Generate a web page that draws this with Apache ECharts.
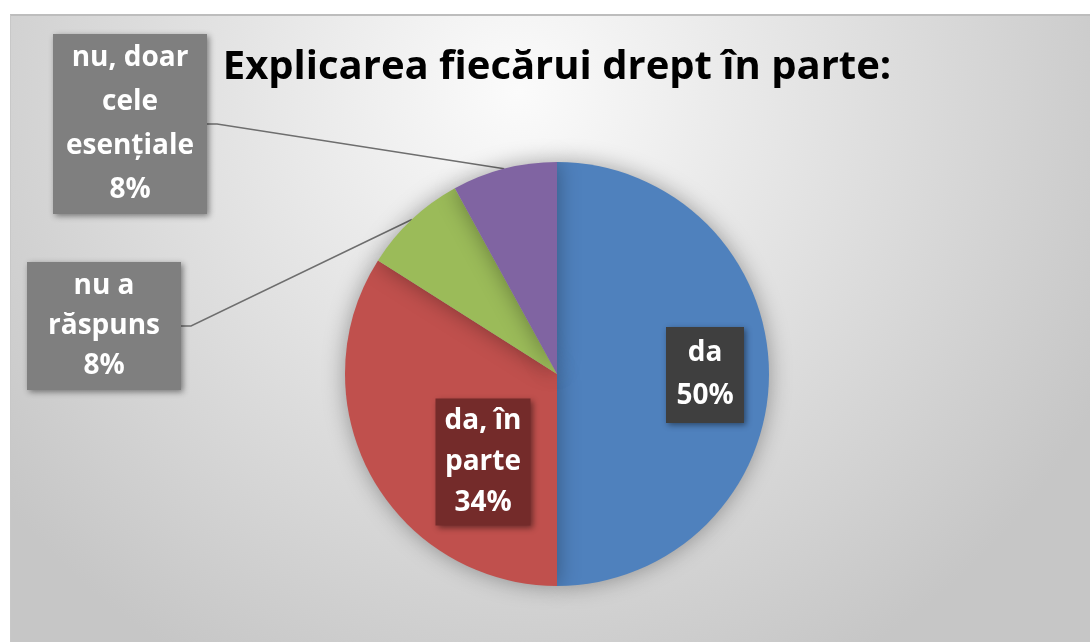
<!DOCTYPE html>
<html>
<head>
<meta charset="utf-8">
<script src="https://cdn.jsdelivr.net/npm/echarts@6/dist/echarts.min.js"></script>
<style>
  html, body { margin: 0; padding: 0; background: #ffffff; }
  #chart {
    position: absolute; left: 10px; top: 14px;
    width: 1080px; height: 628px;
    box-sizing: border-box;
    border-top: 2px solid #bdbdbd; border-left: 1px solid #c8c8c8;
  }
</style>
</head>
<body>
<div id="chart"></div>
<script>
// date
var categories = ['da', 'da, în parte', 'nu a răspuns', 'nu, doar cele esențiale'];
var values = [50, 34, 8, 8];
var labelNames = ['da', 'da, în\nparte', 'nu a\nrăspuns', 'nu, doar\ncele\nesențiale'];
var titleText = 'Explicarea fiecărui drept în parte:';

// stiluri
var sliceColors = ['#4f81bd', '#c0504d', '#9bbb59', '#8064a2'];
var boxColors = ['#3f3f3f', '#742b2a', '#7f7f7f', '#7f7f7f'];
var boxWidths = [72, 91, 150, 150];
var boxLineHeights = [43, 41, 40, 44];
var boxPadding = [[5, 3], [2, 2], [4, 2], [2, 2]];
// centrul etichetelor (coordonate in container)
var labelPos = [[694, 359], [472, 446], [93, 310], [119, 108]];

var chart = echarts.init(document.getElementById('chart'));

var data = categories.map(function (name, i) {
    return {
        name: name,
        value: values[i],
        itemStyle: { color: sliceColors[i] },
        label: {
            position: i < 2 ? 'inside' : 'outside',
            backgroundColor: boxColors[i],
            width: boxWidths[i],
            lineHeight: boxLineHeights[i],
            padding: boxPadding[i]
        },
        labelLine: { show: i >= 2 }
    };
});

var option = {
    backgroundColor: {
        type: 'radial', x: 0.47, y: 0.12, r: 1.05,
        colorStops: [
            { offset: 0, color: '#fbfbfb' },
            { offset: 1, color: '#c6c6c6' }
        ]
    },
    title: {
        text: titleText,
        left: 541,
        textAlign: 'center',
        top: 27,
        textStyle: {
            fontFamily: 'Open Sans',
            fontWeight: 'bold',
            fontSize: 40,
            color: '#000000'
        }
    },
    series: [{
        type: 'pie',
        center: [546, 358],
        radius: 212,
        startAngle: 90,
        clockwise: true,
        data: data,
        itemStyle: {
            shadowBlur: 22,
            shadowColor: 'rgba(0,0,0,0.35)'
        },
        emphasis: { disabled: true },
        label: {
            show: true,
            formatter: function (p) {
                return labelNames[p.dataIndex] + '\n' + Math.round(p.percent) + '%';
            },
            color: '#ffffff',
            fontFamily: 'Open Sans',
            fontWeight: 'bold',
            fontSize: 28,
            align: 'center',
            shadowBlur: 6,
            shadowColor: 'rgba(0,0,0,0.45)',
            shadowOffsetX: 2,
            shadowOffsetY: 2
        },
        labelLine: {
            length: 20,
            length2: 10,
            lineStyle: { color: '#6e6e6e', width: 1.5 }
        },
        labelLayout: function (params) {
            var p = labelPos[params.dataIndex];
            return {
                x: p[0],
                y: p[1],
                align: 'center',
                verticalAlign: 'middle'
            };
        }
    }]
};

chart.setOption(option);
</script>
</body>
</html>
